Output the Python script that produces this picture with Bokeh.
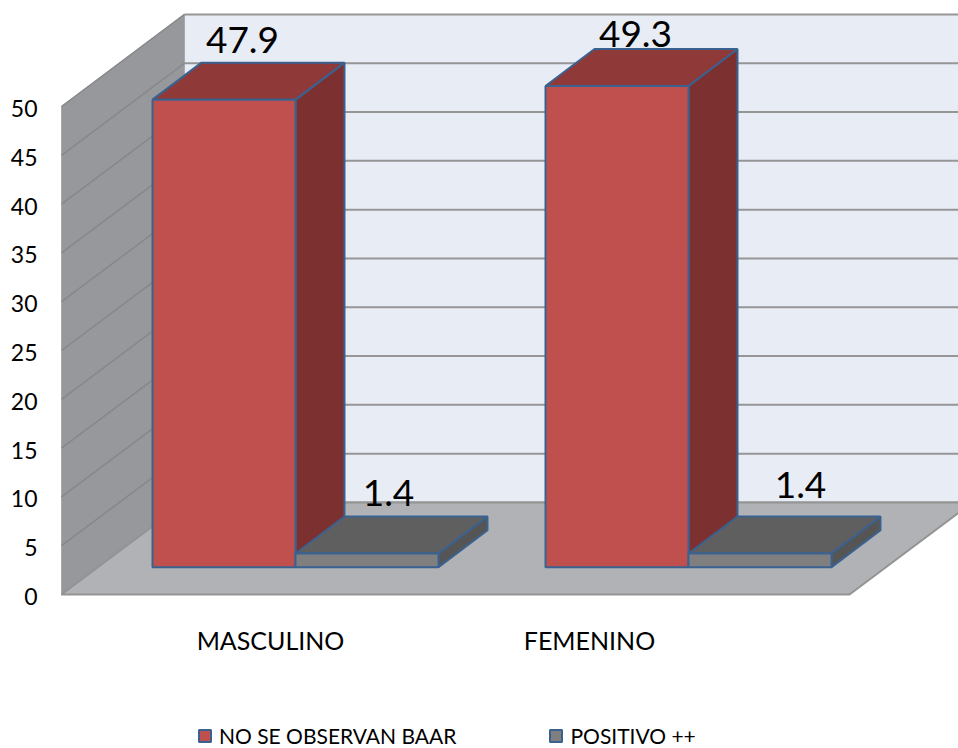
from bokeh.core.properties import value
from bokeh.embed import file_html
from bokeh.models import FixedTicker, Legend, LegendItem, LinearAxis, Range1d
from bokeh.plotting import figure
from bokeh.resources import INLINE

categories = ["MASCULINO", "FEMENINO"]
no_se_observan = [47.9, 49.3]
positivo = [1.4, 1.4]
series_names = ["NO SE OBSERVAN BAAR", "POSITIVO ++"]
y_ticks = [0, 5, 10, 15, 20, 25, 30, 35, 40, 45, 50]

FONT = "Lato"
PX_PER_UNIT = 9.76
FRAME_LEFT, FRAME_TOP_V = 58, 60.86
FRAME_BOTTOM_V = FRAME_TOP_V - 748 / PX_PER_UNIT

# Oblique projection of the 3D box
WALL_X0, WALL_DX, WALL_DV = 61, 123, 9.43
FLOOR_RIGHT = 849
BAR_W, BAR_DX, BAR_DV, BAR_BASE = 143, 49, 3.79, 2.8
GROUP_X0, GROUP_STEP = 152, 393

# Data label centres relative to the top-back-right corner of each bar
LABEL_OFFSETS = {"a": [(-102, 2.35), (-102, 1.5)], "b": [(-99, 2.45), (-80, 3.22)]}
# Category labels hang below the floor, centred left of each bar pair
CATEGORY_X, CATEGORY_V = [270, 589], -4.7

RED, RED_TOP, RED_SIDE = "#c0504d", "#8f3a38", "#7c3130"
GREY, GREY_TOP, GREY_SIDE = "#7f7f7f", "#5f5f5f", "#555555"
EDGE = "#3a6291"
WALL_BACK, WALL_SIDE, FLOOR = "#e8ecf5", "#97989b", "#b0b2b6"
GRID = "#969696"

p = figure(
    frame_width=958 - FRAME_LEFT,
    frame_height=748,
    x_range=Range1d(FRAME_LEFT, 958),
    y_range=Range1d(FRAME_BOTTOM_V, FRAME_TOP_V),
    output_backend="svg",
    toolbar_location=None,
    x_axis_location=None,
    y_axis_location=None,
    min_border_left=FRAME_LEFT,
    min_border_right=0,
    min_border_top=0,
    min_border_bottom=0,
    outline_line_color=None,
    background_fill_color="white",
)
p.grid.visible = False

# Walls
back_left = WALL_X0 + WALL_DX
top_v = y_ticks[-1] + WALL_DV
p.patch([back_left, 958, 958, back_left], [WALL_DV, WALL_DV, top_v, top_v], fill_color=WALL_BACK, line_color=None)
p.patch(
    [WALL_X0, back_left, back_left, WALL_X0],
    [y_ticks[0], WALL_DV, top_v, y_ticks[-1]],
    fill_color=WALL_SIDE,
    line_color="#a8a9ab",
    line_width=1,
)

# Gridlines along both walls
p.segment(
    [back_left] * len(y_ticks), [t + WALL_DV for t in y_ticks],
    [958] * len(y_ticks), [t + WALL_DV for t in y_ticks],
    line_color=GRID, line_width=2,
)
p.segment(
    [WALL_X0] * len(y_ticks), y_ticks,
    [back_left] * len(y_ticks), [t + WALL_DV for t in y_ticks],
    line_color="#86878a", line_width=1.5,
)

# Floor
p.patch(
    [WALL_X0, FLOOR_RIGHT, FLOOR_RIGHT + WALL_DX, back_left],
    [0, 0, WALL_DV, WALL_DV],
    fill_color=FLOOR, line_color="#949494", line_width=2,
)


def box_faces(x_left, v):
    """Top and side faces of one bar, projected from its front face."""
    x_right = x_left + BAR_W
    v_top = BAR_BASE + v
    top = ([x_left, x_right, x_right + BAR_DX, x_left + BAR_DX],
           [v_top, v_top, v_top + BAR_DV, v_top + BAR_DV])
    side = ([x_right, x_right + BAR_DX, x_right + BAR_DX, x_right],
            [BAR_BASE, BAR_BASE + BAR_DV, v_top + BAR_DV, v_top])
    return top, side


legend_renderers = []
series = [(no_se_observan, RED, RED_TOP, RED_SIDE, 0), (positivo, GREY, GREY_TOP, GREY_SIDE, 1)]
# Left-to-right painting lets each thin bar sit over its neighbour's side face
for values, front, top_c, side_c, slot in series:
    lefts = [GROUP_X0 + GROUP_STEP * i + BAR_W * slot for i in range(len(values))]
    for x_left, v in zip(lefts, values):
        top, side = box_faces(x_left, v)
        p.patch(*side, fill_color=side_c, line_color=EDGE, line_width=2)
        p.patch(*top, fill_color=top_c, line_color=EDGE, line_width=2)
    bars = p.vbar(
        x=[x + BAR_W / 2 for x in lefts], width=BAR_W,
        bottom=[BAR_BASE] * len(values), top=[BAR_BASE + v for v in values],
        fill_color=front, line_color=EDGE, line_width=2,
    )
    legend_renderers.append(bars)

# Data labels
for key, values, slot in (("a", no_se_observan, 0), ("b", positivo, 1)):
    for i, v in enumerate(values):
        dx, dv = LABEL_OFFSETS[key][i]
        x = GROUP_X0 + GROUP_STEP * i + BAR_W * slot + BAR_W + BAR_DX + dx
        y = BAR_BASE + v + BAR_DV + dv
        p.text(
            [x], [y], text=[f"{v}"], text_align="center", text_baseline="middle",
            text_font=value(FONT), text_font_size="37px", text_color="#000000",
        )

# Category labels
p.text(
    CATEGORY_X, [CATEGORY_V] * len(categories), text=categories,
    text_align="center", text_baseline="middle",
    text_font=value(FONT), text_font_size="25px", text_color="#000000",
)

# Value axis, on a range nudged so its labels sit just under each gridline start
p.extra_y_ranges = {"labels": Range1d(FRAME_BOTTOM_V + 0.2, FRAME_TOP_V + 0.2)}
y_axis = LinearAxis(
    y_range_name="labels",
    ticker=FixedTicker(ticks=y_ticks),
    axis_line_color=None, major_tick_line_color=None, minor_tick_line_color=None,
    major_tick_in=0, major_tick_out=0, major_label_standoff=21,
    major_label_text_font=FONT, major_label_text_font_size="23px", major_label_text_color="#000000",
)
p.add_layout(y_axis, "left")

legend = Legend(
    items=[LegendItem(label=n, renderers=[r]) for n, r in zip(series_names, legend_renderers)],
    orientation="horizontal",
    location=(139, 0),
    border_line_color=None,
    background_fill_alpha=0,
    padding=0, margin=0, spacing=92,
    glyph_width=15, glyph_height=15, label_standoff=7,
    label_text_font=FONT, label_text_font_size="21px", label_text_color="#000000",
)
p.add_layout(legend)

open("out.html", "w").write(file_html(p, INLINE))
